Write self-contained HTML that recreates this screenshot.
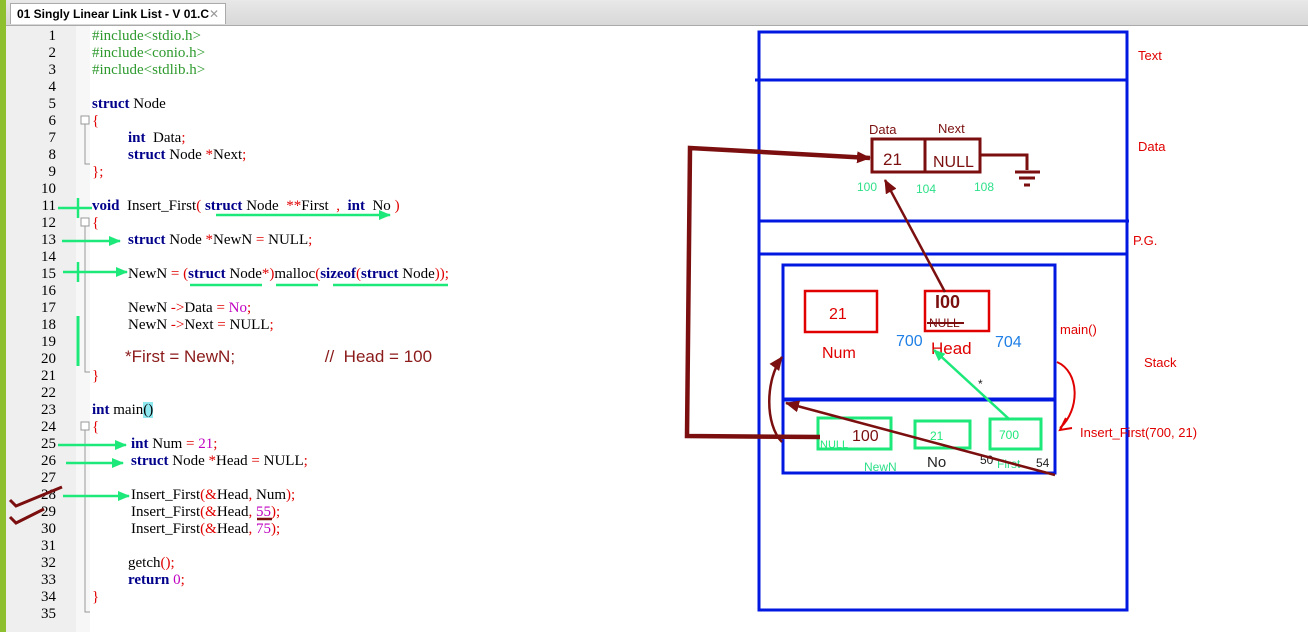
<!DOCTYPE html>
<html><head><meta charset="utf-8"><style>
body{margin:0;width:1308px;height:632px;overflow:hidden;background:#fff;position:relative;font-family:"Liberation Serif",serif}
.top{position:absolute;left:0;top:0;width:1308px;height:25px;background:linear-gradient(#e8e8e8,#d8d8d8);border-bottom:1px solid #aaa}
.tab{position:absolute;left:10px;top:3px;width:216px;height:21px;background:#fff;border:1px solid #aaa;border-bottom:none;font:bold 12px "Liberation Sans",sans-serif;line-height:21px;padding-left:6px;box-sizing:border-box}
.tab span{position:absolute;right:6px;color:#999;font-weight:normal}
.gbar{position:absolute;left:0;top:0;width:6px;height:632px;background:#8dbf2f}
.gut{position:absolute;left:6px;top:26px;width:70px;height:606px;background:#efefef}
.fold{position:absolute;left:76px;top:26px;width:14px;height:606px;background:#f7f7f7}
.ln{position:absolute;left:20px;width:36px;text-align:right;font-size:15px;line-height:17px}
.c{position:absolute;font-size:15px;line-height:17px;white-space:pre}
.k{color:#00008b;font-weight:bold}.p{color:#e00000}.g{color:#2e9a2e}.n{color:#c000c0}
</style></head><body>
<div class="top"><div class="tab">01 Singly Linear Link List - V 01.C<span>✕</span></div></div>
<div class="gbar"></div><div class="gut"></div><div class="fold"></div>
<div class="ln" style="top:28px">1</div><div class="ln" style="top:45px">2</div><div class="ln" style="top:62px">3</div><div class="ln" style="top:79px">4</div><div class="ln" style="top:96px">5</div><div class="ln" style="top:113px">6</div><div class="ln" style="top:130px">7</div><div class="ln" style="top:147px">8</div><div class="ln" style="top:164px">9</div><div class="ln" style="top:181px">10</div><div class="ln" style="top:198px">11</div><div class="ln" style="top:215px">12</div><div class="ln" style="top:232px">13</div><div class="ln" style="top:249px">14</div><div class="ln" style="top:266px">15</div><div class="ln" style="top:283px">16</div><div class="ln" style="top:300px">17</div><div class="ln" style="top:317px">18</div><div class="ln" style="top:334px">19</div><div class="ln" style="top:351px">20</div><div class="ln" style="top:368px">21</div><div class="ln" style="top:385px">22</div><div class="ln" style="top:402px">23</div><div class="ln" style="top:419px">24</div><div class="ln" style="top:436px">25</div><div class="ln" style="top:453px">26</div><div class="ln" style="top:470px">27</div><div class="ln" style="top:487px">28</div><div class="ln" style="top:504px">29</div><div class="ln" style="top:521px">30</div><div class="ln" style="top:538px">31</div><div class="ln" style="top:555px">32</div><div class="ln" style="top:572px">33</div><div class="ln" style="top:589px">34</div><div class="ln" style="top:606px">35</div>

<div class="c g" style="left:92px;top:28px">#include&lt;stdio.h&gt;</div>
<div class="c g" style="left:92px;top:45px">#include&lt;conio.h&gt;</div>
<div class="c g" style="left:92px;top:62px">#include&lt;stdlib.h&gt;</div>
<div class="c" style="left:92px;top:96px"><span class="k">struct</span> Node</div>
<div class="c p" style="left:92px;top:113px">{</div>
<div class="c" style="left:128px;top:130px"><span class="k">int</span>  Data<span class="p">;</span></div>
<div class="c" style="left:128px;top:147px"><span class="k">struct</span> Node <span class="p">*</span>Next<span class="p">;</span></div>
<div class="c p" style="left:92px;top:164px">};</div>
<div class="c" style="left:92px;top:198px"><span class="k">void</span>  Insert_First<span class="p">(</span> <span class="k">struct</span> Node  <span class="p">**</span>First  <span class="p">,</span>  <span class="k">int</span>  No <span class="p">)</span></div>
<div class="c p" style="left:92px;top:215px">{</div>
<div class="c" style="left:128px;top:232px"><span class="k">struct</span> Node <span class="p">*</span>NewN <span class="p">=</span> NULL<span class="p">;</span></div>
<div class="c" style="left:128px;top:266px">NewN <span class="p">=</span> <span class="p">(</span><span class="k">struct</span> Node<span class="p">*)</span>malloc<span class="p">(</span><span class="k">sizeof</span><span class="p">(</span><span class="k">struct</span> Node<span class="p">));</span></div>
<div class="c" style="left:128px;top:300px">NewN <span class="p">-&gt;</span>Data <span class="p">=</span> <span class="n">No</span><span class="p">;</span></div>
<div class="c" style="left:128px;top:317px">NewN <span class="p">-&gt;</span>Next <span class="p">=</span> NULL<span class="p">;</span></div>
<div class="c" style="left:125px;top:348px;font-family:'Liberation Sans',sans-serif;font-size:17px;color:#8b1a1a">*First = NewN;                   //  Head = 100</div>
<div class="c p" style="left:92px;top:368px">}</div>
<div class="c" style="left:92px;top:402px"><span class="k">int</span> main<span style="background:#8ee8f0">()</span></div>
<div class="c p" style="left:92px;top:419px">{</div>
<div class="c" style="left:131px;top:436px"><span class="k">int</span> Num <span class="p">=</span> <span class="n">21</span><span class="p">;</span></div>
<div class="c" style="left:131px;top:453px"><span class="k">struct</span> Node <span class="p">*</span>Head <span class="p">=</span> NULL<span class="p">;</span></div>
<div class="c" style="left:131px;top:487px">Insert_First<span class="p">(&amp;</span>Head<span class="p">,</span> Num<span class="p">);</span></div>
<div class="c" style="left:131px;top:504px">Insert_First<span class="p">(&amp;</span>Head<span class="p">,</span> <span class="n">55</span><span class="p">);</span></div>
<div class="c" style="left:131px;top:521px">Insert_First<span class="p">(&amp;</span>Head<span class="p">,</span> <span class="n">75</span><span class="p">);</span></div>
<div class="c" style="left:128px;top:555px">getch<span class="p">();</span></div>
<div class="c" style="left:128px;top:572px"><span class="k">return</span> <span class="n">0</span><span class="p">;</span></div>
<div class="c p" style="left:92px;top:589px">}</div>

<svg width="1308" height="632" style="position:absolute;left:0;top:0" font-family="Liberation Sans, sans-serif">
<defs>
<marker id="ag" markerUnits="userSpaceOnUse" markerWidth="12" markerHeight="10" refX="11" refY="5" orient="auto"><path d="M0,0L12,5L0,10z" fill="#1de87a"/></marker>
<marker id="ar" markerUnits="userSpaceOnUse" markerWidth="14" markerHeight="12" refX="13" refY="6" orient="auto"><path d="M0,0L14,6L0,12z" fill="#7b0f0f"/></marker>
</defs>
<g stroke="#999" fill="none"><rect x="81" y="116" width="8" height="8" fill="#fff"/><path d="M85,124V164H90"/><rect x="81" y="218" width="8" height="8" fill="#fff"/><path d="M85,226V372H90"/><rect x="81" y="422" width="8" height="8" fill="#fff"/><path d="M85,430V612H90"/></g>
<g stroke="#1de87a" stroke-width="2.5" fill="none">
<path d="M58,208H92M78,198V218"/>
<path d="M216,215H390" marker-end="url(#ag)"/>
<path d="M62,241H120" marker-end="url(#ag)"/>
<path d="M78,262V282"/>
<path d="M63,272H127" marker-end="url(#ag)"/>
<path d="M190,285H262M276,285H318M333,285H448"/>
<path d="M78,316V366" stroke-width="3"/>
<path d="M58,445H126" marker-end="url(#ag)"/>
<path d="M66,463H123" marker-end="url(#ag)"/>
<path d="M63,496H129" marker-end="url(#ag)"/>
</g>
<path d="M257,519H272" stroke="#7b0f0f" stroke-width="2.5"/>
<g stroke="#7b0f0f" stroke-width="3" fill="none"><path d="M10,500L16,506L62,487"/><path d="M10,517L16,523L44,509"/></g>
<g stroke="#0018e0" stroke-width="3" fill="none">
<rect x="759" y="32" width="368" height="578"/>
<path d="M755,80H1127M759,221H1129M759,254H1127"/>
<rect x="783" y="265" width="272" height="134"/>
<rect x="783" y="400" width="272" height="73"/>
</g>
<g fill="#e00000" font-size="13"><text x="1138" y="60">Text</text><text x="1138" y="151">Data</text><text x="1133" y="245">P.G.</text><text x="1144" y="367">Stack</text><text x="1060" y="334">main()</text><text x="1080" y="437">Insert_First(700, 21)</text></g>
<g stroke="#7b0f0f" stroke-width="3" fill="none"><rect x="872" y="139" width="108" height="33"/><path d="M925,139V172M980,155H1027V170M1015,172H1040M1019,178H1035M1024,185H1030"/></g>
<g fill="#7b0f0f" font-size="14"><text x="869" y="134" font-size="13">Data</text><text x="938" y="133" font-size="13">Next</text><text x="883" y="165" font-size="17">21</text><text x="933" y="167" font-size="16">NULL</text></g>
<g fill="#2ee08a" font-size="12"><text x="857" y="191">100</text><text x="916" y="193">104</text><text x="974" y="191">108</text></g>
<g stroke="#e00000" stroke-width="2.5" fill="none"><rect x="805" y="291" width="72" height="41"/><rect x="925" y="291" width="64" height="40"/></g>
<text x="829" y="319" fill="#e00000" font-size="16">21</text>
<text x="822" y="358" fill="#e00000" font-size="16">Num</text>
<text x="931" y="354" fill="#e00000" font-size="17">Head</text>
<text x="929" y="327" fill="#7b0f0f" font-size="12">NULL</text>
<path d="M927,323H964" stroke="#7b0f0f" stroke-width="2"/>
<text x="935" y="308" fill="#7b0f0f" font-size="18" font-weight="bold">I00</text>
<text x="896" y="346" fill="#1f7fe6" font-size="16">700</text>
<text x="995" y="347" fill="#1f7fe6" font-size="16">704</text>
<g stroke="#1de87a" stroke-width="3" fill="none"><rect x="818" y="418" width="73" height="31"/><rect x="915" y="421" width="55" height="27"/><rect x="990" y="419" width="51" height="30"/></g>
<text x="852" y="441" fill="#7b0f0f" font-size="16">100</text>
<text x="820" y="448" fill="#1de87a" font-size="11">NULL</text>
<text x="930" y="440" fill="#1de87a" font-size="12">21</text>
<text x="999" y="439" fill="#1de87a" font-size="12">700</text>
<text x="864" y="471" fill="#2ee08a" font-size="12">NewN</text>
<text x="927" y="467" fill="#222" font-size="15">No</text>
<text x="980" y="464" fill="#222" font-size="12">50</text>
<text x="997" y="468" fill="#2ee08a" font-size="12">First</text>
<text x="1036" y="467" fill="#222" font-size="12">54</text>
<text x="978" y="388" fill="#222" font-size="12">*</text>
<path d="M1009,419L934,350" stroke="#1de87a" stroke-width="2.5" marker-end="url(#ag)"/>
<g stroke="#7b0f0f" fill="none">
<path d="M820,437L687,436L690,148L870,158" stroke-width="4.5" marker-end="url(#ar)"/>
<path d="M945,292L885,180" stroke-width="2.5" marker-end="url(#ar)"/>
<path d="M1055,475L786,403" stroke-width="2.5" marker-end="url(#ar)"/>
<path d="M782,442C765,425 765,380 782,357" stroke-width="2.5" marker-end="url(#ar)"/>
</g>
<path d="M1057,362C1080,372 1080,410 1060,428" stroke="#e00000" stroke-width="2" fill="none"/>
<path d="M1066,418L1060,430L1072,428" stroke="#e00000" stroke-width="2" fill="none"/>
</svg>
</body></html>
